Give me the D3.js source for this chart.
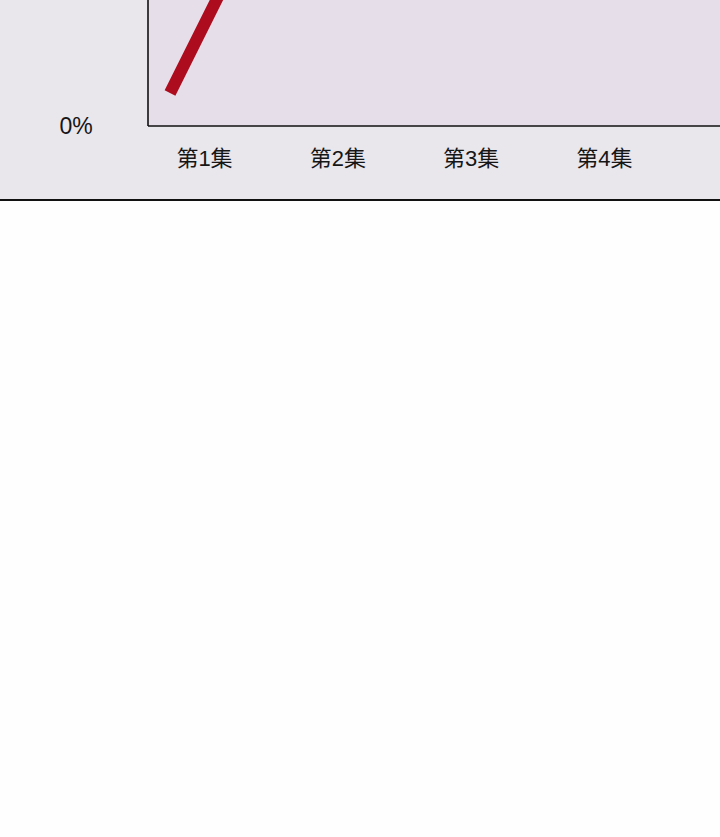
<!DOCTYPE html>
<html>
<head>
<meta charset="utf-8">
<script src="https://cdn.jsdelivr.net/npm/d3@7"></script>
<style>
  html, body { margin: 0; padding: 0; background: #fefefe; }
  svg { display: block; }
</style>
</head>
<body>
<div id="chart"></div>
<script>
// Episodes shown on the x axis
const episodes = ["第1集", "第2集", "第3集", "第4集"];
// Share per episode (only the first point is inside the visible crop)
const share = [0.022, 0.2, 0.215, 0.236];
// Y tick values
const yTicks = [0];

const width = 720;
const height = 837;

// Chart frame (the picture is the bottom slice of a taller chart)
const panelBottom = 200;
const plotLeft = 148;
const plotBottom = 126;

const svg = d3.select("#chart").append("svg")
  .attr("width", width)
  .attr("height", height);

// outer panel
svg.append("rect")
  .attr("x", 0).attr("y", -10)
  .attr("width", width).attr("height", panelBottom + 10)
  .attr("fill", "#e9e6ec");

// plot area
svg.append("rect")
  .attr("x", plotLeft).attr("y", -10)
  .attr("width", width - plotLeft + 10).attr("height", plotBottom + 10)
  .attr("fill", "#e6dee8");

// Scales: 10% = 150px, 0% sits on the bottom axis
const y = d3.scaleLinear()
  .domain([0, 0.5])
  .range([plotBottom, plotBottom - 750]);

const x = d3.scalePoint()
  .domain(episodes)
  .range([170, 170 + 133.3 * 3]);

// line
const line = d3.line()
  .x((d, i) => x(episodes[i]))
  .y(d => y(d));

svg.append("path")
  .datum(share)
  .attr("d", line)
  .attr("fill", "none")
  .attr("stroke", "#ad0c1e")
  .attr("stroke-width", 12)
  .attr("stroke-linejoin", "round");

// axes lines
svg.append("line")
  .attr("x1", plotLeft).attr("x2", plotLeft)
  .attr("y1", -10).attr("y2", plotBottom)
  .attr("stroke", "#111").attr("stroke-width", 1.6);
svg.append("line")
  .attr("x1", plotLeft).attr("x2", width + 5)
  .attr("y1", plotBottom).attr("y2", plotBottom)
  .attr("stroke", "#111").attr("stroke-width", 1.6);

// y tick labels
svg.append("g")
  .selectAll("text")
  .data(yTicks)
  .join("text")
    .attr("x", 76)
    .attr("y", d => y(d) + 8)
    .attr("text-anchor", "middle")
    .attr("fill", "#161616")
    .style("font", "23px 'Liberation Sans', Arial, sans-serif")
    .text(d => d3.format(".0%")(d));

// x labels, sit a bit right of the points
svg.append("g")
  .selectAll("text")
  .data(episodes)
  .join("text")
    .attr("x", d => x(d) + 34.5)
    .attr("y", 166)
    .attr("text-anchor", "middle")
    .attr("fill", "#161616")
    .style("font", "22px 'Liberation Sans', 'Noto Sans CJK SC', sans-serif")
    .text(d => d);

// bottom rule of the panel
svg.append("line")
  .attr("x1", 0).attr("x2", width)
  .attr("y1", panelBottom).attr("y2", panelBottom)
  .attr("stroke", "#111").attr("stroke-width", 2);
</script>
</body>
</html>
